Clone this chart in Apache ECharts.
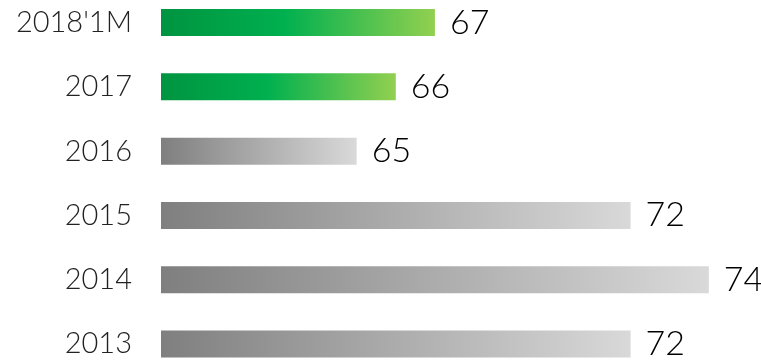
<!DOCTYPE html>
<html>
<head>
<meta charset="utf-8">
<script src="https://cdn.jsdelivr.net/npm/echarts@6/dist/echarts.min.js"></script>
<style>
  html, body { margin: 0; padding: 0; background: #fff; }
  #chart { width: 761px; height: 361px; }
</style>
</head>
<body>
<div id="chart"></div>
<script>
// dados, de cima para baixo
const categories = ["2018'1M", '2017', '2016', '2015', '2014', '2013'];
const values = [67, 66, 65, 72, 74, 72];
const highlighted = ["2018'1M", '2017'];

const greenGradient = new echarts.graphic.LinearGradient(0, 0, 1, 0, [
    { offset: 0, color: '#009440' },
    { offset: 0.45, color: '#00b04f' },
    { offset: 1, color: '#92d050' }
]);
const grayGradient = new echarts.graphic.LinearGradient(0, 0, 1, 0, [
    { offset: 0, color: '#7f7f7f' },
    { offset: 1, color: '#d9d9d9' }
]);

const chart = echarts.init(document.getElementById('chart'));
chart.setOption({
    animation: false,
    grid: {
        left: 161,
        top: -9.6,
        width: 587,
        height: 385.8,
        containLabel: false,
        outerBoundsMode: 'none'
    },
    xAxis: {
        type: 'value',
        min: 60,
        max: 75,
        show: false
    },
    yAxis: {
        type: 'category',
        inverse: true,
        data: categories,
        axisLine: { show: false },
        axisTick: { show: false },
        axisLabel: {
            margin: 29,
            fontSize: 29,
            fontFamily: 'Lato',
            fontWeight: 300,
            color: '#222'
        }
    },
    series: [{
        type: 'bar',
        barWidth: 27,
        data: values.map((v, i) => ({
            value: v,
            itemStyle: {
                color: highlighted.includes(categories[i]) ? greenGradient : grayGradient
            }
        })),
        label: {
            show: true,
            position: 'right',
            distance: 15,
            fontSize: 34,
            fontFamily: 'Lato',
            fontWeight: 300,
            color: '#000'
        }
    }]
});
</script>
</body>
</html>
